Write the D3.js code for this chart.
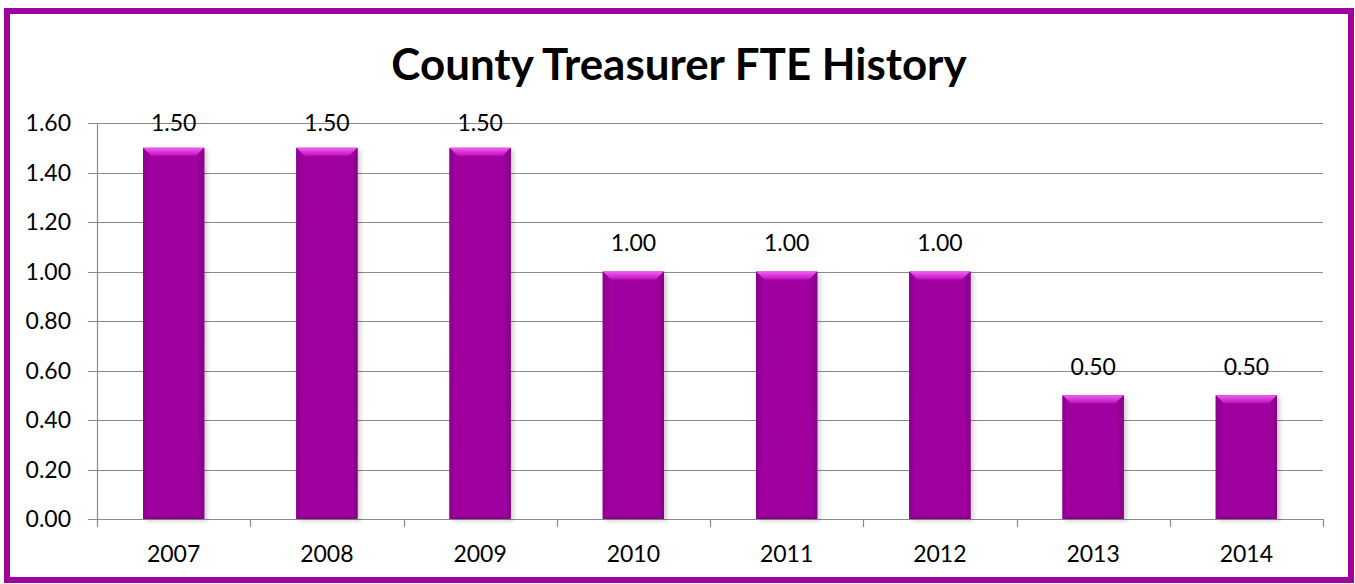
<!DOCTYPE html>
<html>
<head>
<meta charset="utf-8">
<script src="https://cdn.jsdelivr.net/npm/d3@7"></script>
<style>
  html, body { margin: 0; padding: 0; background: #fff; }
  svg { display: block; }
  text { font-family: Lato, "Open Sans", sans-serif; fill: #000; }
</style>
</head>
<body>
<svg id="chart" width="1355" height="584"></svg>
<script>
const title = "County Treasurer FTE History";
const categories = ["2007", "2008", "2009", "2010", "2011", "2012", "2013", "2014"];
const values = [1.50, 1.50, 1.50, 1.00, 1.00, 1.00, 0.50, 0.50];
const yTicks = [0, 0.2, 0.4, 0.6, 0.8, 1.0, 1.2, 1.4, 1.6];

const W = 1355, H = 584;
const svg = d3.select("#chart");
const margin = { left: 97, right: 1323, top: 123, bottom: 519 };
const purple = "#a000a0";

// defs
const defs = svg.append("defs");
const gTop = defs.append("linearGradient").attr("id", "gTop").attr("x1", 0).attr("y1", 0).attr("x2", 0).attr("y2", 1);
gTop.append("stop").attr("offset", 0).attr("stop-color", "#f060f0");
gTop.append("stop").attr("offset", 1).attr("stop-color", "#c010c0");
const gL = defs.append("linearGradient").attr("id", "gL").attr("x1", 0).attr("y1", 0).attr("x2", 1).attr("y2", 0);
gL.append("stop").attr("offset", 0).attr("stop-color", "#8c008c");
gL.append("stop").attr("offset", 1).attr("stop-color", purple);
const gR = defs.append("linearGradient").attr("id", "gR").attr("x1", 0).attr("y1", 0).attr("x2", 1).attr("y2", 0);
gR.append("stop").attr("offset", 0).attr("stop-color", purple);
gR.append("stop").attr("offset", 1).attr("stop-color", "#850085");
const gB = defs.append("linearGradient").attr("id", "gB").attr("x1", 0).attr("y1", 0).attr("x2", 0).attr("y2", 1);
gB.append("stop").attr("offset", 0).attr("stop-color", purple);
gB.append("stop").attr("offset", 1).attr("stop-color", "#800080");
const blur = defs.append("filter").attr("id", "shadow").attr("x", "-20%").attr("y", "-20%").attr("width", "140%").attr("height", "140%");
blur.append("feGaussianBlur").attr("stdDeviation", 2);

// frame
svg.append("rect").attr("x", 7).attr("y", 11).attr("width", 1344).attr("height", 569)
  .attr("fill", "#fff").attr("stroke", purple).attr("stroke-width", 6);

// scales
const x = d3.scaleBand().domain(categories).range([margin.left, margin.right]).paddingInner(0.6).paddingOuter(0.3);
const xOuter = d3.scaleBand().domain(categories).range([margin.left, margin.right]);
const y = d3.scaleLinear().domain([0, 1.6]).range([margin.bottom, margin.top]);

// gridlines
svg.append("g").selectAll("line").data(yTicks).join("line")
  .attr("x1", margin.left - 9).attr("x2", margin.right)
  .attr("y1", d => Math.round(y(d)) + 0.5).attr("y2", d => Math.round(y(d)) + 0.5)
  .attr("stroke", "#8a8a8a").attr("stroke-width", 1.2);

// y axis line
svg.append("line").attr("x1", margin.left + 0.5).attr("x2", margin.left + 0.5)
  .attr("y1", margin.top).attr("y2", margin.bottom + 8)
  .attr("stroke", "#8a8a8a").attr("stroke-width", 1.2);

// category ticks
const boundaries = categories.map(c => xOuter(c)).concat([margin.right]).slice(1);
svg.append("g").selectAll("line").data(boundaries).join("line")
  .attr("x1", d => Math.round(d) + 0.5).attr("x2", d => Math.round(d) + 0.5)
  .attr("y1", margin.bottom).attr("y2", margin.bottom + 8)
  .attr("stroke", "#8a8a8a").attr("stroke-width", 1.2);

// y tick labels
svg.append("g").selectAll("text").data(yTicks).join("text")
  .attr("x", 71).attr("y", d => y(d)).attr("dy", "0.36em")
  .attr("text-anchor", "end").style("font-size", "23px")
  .text(d => d3.format(".2f")(d));

// x labels
svg.append("g").selectAll("text").data(categories).join("text")
  .attr("x", d => xOuter(d) + xOuter.bandwidth() / 2).attr("y", 562)
  .attr("text-anchor", "middle").style("font-size", "23px")
  .text(d => d);

// bars
const bw = x.bandwidth();
const bars = svg.append("g").selectAll("g").data(values.map((v, i) => ({ c: categories[i], v }))).join("g");
bars.append("rect")
  .attr("x", d => x(d.c) + 3).attr("y", d => y(d.v) + 2)
  .attr("width", bw).attr("height", d => margin.bottom - y(d.v))
  .attr("fill", "#000").attr("opacity", 0.18).attr("filter", "url(#shadow)");
bars.append("rect")
  .attr("x", d => x(d.c)).attr("y", d => y(d.v))
  .attr("width", bw).attr("height", d => margin.bottom - y(d.v))
  .attr("fill", purple);
const bev = 8;
bars.append("polygon").attr("points", d => {
  const x0 = x(d.c), x1 = x0 + bw, t = y(d.v);
  return [[x0, t], [x1, t], [x1 - bev, t + bev], [x0 + bev, t + bev]].join(" ");
}).attr("fill", "url(#gTop)");
bars.append("polygon").attr("points", d => {
  const x0 = x(d.c), t = y(d.v), b = margin.bottom;
  return [[x0, t], [x0 + bev, t + bev], [x0 + 4, b - 4], [x0, b]].join(" ");
}).attr("fill", "url(#gL)");
bars.append("polygon").attr("points", d => {
  const x1 = x(d.c) + bw, t = y(d.v), b = margin.bottom;
  return [[x1, t], [x1 - bev, t + bev], [x1 - 4, b - 4], [x1, b]].join(" ");
}).attr("fill", "url(#gR)");
bars.append("polygon").attr("points", d => {
  const x0 = x(d.c), x1 = x0 + bw, b = margin.bottom;
  return [[x0, b], [x0 + 4, b - 4], [x1 - 4, b - 4], [x1, b]].join(" ");
}).attr("fill", "url(#gB)");

// data labels
svg.append("g").selectAll("text").data(values.map((v, i) => ({ c: categories[i], v }))).join("text")
  .attr("x", d => x(d.c) + bw / 2)
  .attr("y", d => Math.max(y(d.v) - 20.5, margin.top + 8))
  .attr("text-anchor", "middle").style("font-size", "23px")
  .text(d => d3.format(".2f")(d.v));

// title
const t = svg.append("text").attr("x", 679).attr("y", 80)
  .attr("text-anchor", "middle").style("font-weight", "bold").style("font-size", "40px")
  .text(title);
const len = t.node().getComputedTextLength();
t.style("font-size", (40 * 575 / len).toFixed(1) + "px");
</script>
</body>
</html>
